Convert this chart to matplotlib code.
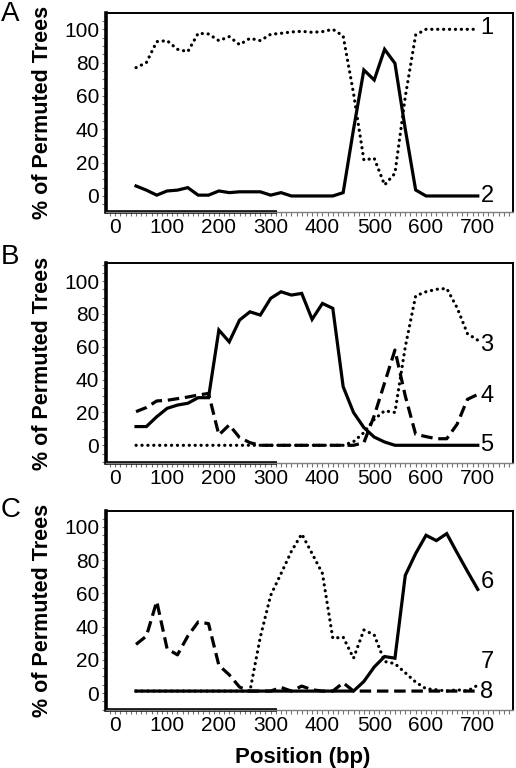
import matplotlib
matplotlib.use('Agg')
import matplotlib.pyplot as plt
from matplotlib.ticker import MultipleLocator

plt.rcParams['font.family'] = ['Liberation Sans', 'DejaVu Sans']

# window positions (bp)
pos = [40, 60, 80, 100, 120, 140, 160, 180, 200, 220, 240, 260, 280, 300, 320, 340, 360,
       380, 400, 420, 440, 460, 480, 500, 520, 540, 560, 580, 600, 620, 640, 660, 680, 700]

# panel A
a1 = [77, 80, 92.6, 93.2, 88, 86.6, 97.6, 97.2, 93.2, 95.6, 90.8, 94.6, 93.2, 97, 97.6, 98.4, 98.8,
      98.2, 98.6, 100, 96, 61.6, 21.6, 22.6, 6.6, 13.6, 59.6, 96.6, 100, 100, 100, 100, 100, 100]
a2 = [6, 3.5, 0.5, 3, 3.5, 5, 0.5, 0.5, 3, 2, 2.5, 2.5, 2.5, 0.5, 2, 0, 0,
      0, 0, 0, 2, 40, 75.6, 69.6, 88, 79.6, 40, 3.6, 0, 0, 0, 0, 0, 0]

# panel B
b3 = [0, 0, 0, 0, 0, 0, 0, 0, 0, 0, 0, 0, 0, 0, 0, 0, 0,
      0, 0, 0, 0, 2.2, 7.7, 15.8, 21, 20, 60, 91, 93.5, 95, 95.5, 83.8, 68, 64]
b4 = [20.5, 23, 27, 27.4, 28.4, 29.4, 30.6, 31.6, 6.3, 12.4, 4.7, 1.6, 0, 0, 0, 0, 0,
      0, 0, 0, 0, 0, 1.6, 18, 38, 58, 30, 6.7, 5.3, 4, 4, 12.8, 28, 31]
b5 = [11.4, 11.4, 17.4, 22.5, 24.5, 25.6, 29, 29, 70.2, 63, 76.3, 81.3, 79.3, 89.5, 93.5, 91.5, 92.5,
      76.7, 86.4, 83.4, 35.7, 20, 10.8, 5, 2, 0, 0, 0, 0, 0, 0, 0, 0, 0]

# panel C
c6 = [1.2, 1.2, 1.2, 1.2, 1.2, 1.2, 1.2, 1.2, 1.2, 1.2, 1.2, 1.2, 1.2, 1.2, 1.2, 1.2, 1.2,
      1.2, 1.2, 1.2, 1.2, 1.2, 7, 15.7, 22, 21, 70.9, 84, 95, 91.8, 96, 84.5, 73.3, 62.4]
c7 = [1.2, 1.2, 1.2, 1.2, 1.2, 1.2, 1.2, 1.2, 1.2, 1.2, 1.2, 1.2, 33.7, 58.8, 71.9, 85.3, 95.8,
      84, 72, 33, 33.7, 21, 38, 35, 19, 17.7, 12.2, 6.6, 2.6, 2, 1.2, 2, 1.2, 4.8]
c8 = [29.3, 34.3, 55.2, 26.7, 23, 34.3, 42.8, 41.8, 16.7, 11, 3.6, 1.2, 1.2, 1.2, 3.4, 1.2, 4.2,
      2, 1.2, 1.2, 6.2, 1.2, 1.2, 1.2, 1.2, 1.2, 1.2, 1.2, 1.2, 1.2, 1.2, 1.2, 1.2, 1.2]

solid = dict(color='k', lw=2.3, ls='-', solid_joinstyle='miter')
dotted = dict(color='k', lw=2.3, ls=(0, (0.05, 1.8)), dash_capstyle='round')
dashed = dict(color='k', lw=2.3, ls=(0, (3.6, 1.8)), dash_capstyle='butt')

panels = [
    ('A', [0.2054, 0.7240, 0.7888, 0.2591], (-9.6, 109.8), 14,
     [(a1, dotted, '1', 100.5), (a2, solid, '2', 0)]),
    ('B', [0.2054, 0.3971, 0.7888, 0.2604], (-10.8, 111), 257,
     [(b3, dotted, '3', 61), (b4, dashed, '4', 30), (b5, solid, '5', 0)]),
    ('C', [0.2054, 0.0755, 0.7888, 0.2591], (-10.2, 109.6), 510,
     [(c7, dotted, '7', 18.7), (c8, dashed, '8', 0.6), (c6, solid, '6', 67)]),
]

fig = plt.figure(figsize=(5.16, 7.68), dpi=100)

for letter, rect, ylim, ly, series in panels:
    ax = fig.add_axes(rect)
    for vals, st, lab, ty in series:
        ax.plot(pos, vals, **st)
        ax.text(705, ty, lab, fontsize=17, ha='left', va='center')
    ax.set_xlim(-18, 768)
    ax.set_ylim(*ylim)
    ax.set_xticks(range(0, 701, 100))
    ax.set_yticks(range(0, 101, 20))
    ax.xaxis.set_minor_locator(MultipleLocator(10))
    ax.yaxis.set_minor_locator(MultipleLocator(5))
    ax.tick_params(axis='both', which='both', direction='out', length=3, width=0.8, color='0.45')
    ax.tick_params(axis='both', which='major', labelsize=15)
    ax.tick_params(axis='x', pad=1)
    ax.tick_params(axis='y', pad=2)
    ax.spines['left'].set_linewidth(2.6)
    ax.spines['top'].set_linewidth(1.4)
    ax.spines['right'].set_linewidth(1.4)
    ax.spines['bottom'].set_linewidth(1)
    ax.spines['bottom'].set_color('0.5')
    # thick part of the bottom axis line
    ax.plot([0, 0.42], [0, 0], transform=ax.transAxes, color='k', lw=2.6,
            clip_on=False, solid_capstyle='butt')
    fig.text(43 / 516, rect[1] + rect[3] / 2, '% of Permuted Trees', rotation=90,
             fontsize=15.5, fontweight='bold', ha='center', va='center')
    fig.text(0.002, 1 - ly / 768, letter, fontsize=20, ha='left', va='center')

fig.text(303 / 516, 1 - 757 / 768, 'Position (bp)', fontsize=16, fontweight='bold',
         ha='center', va='center')

plt.savefig('out.png', dpi=100)
